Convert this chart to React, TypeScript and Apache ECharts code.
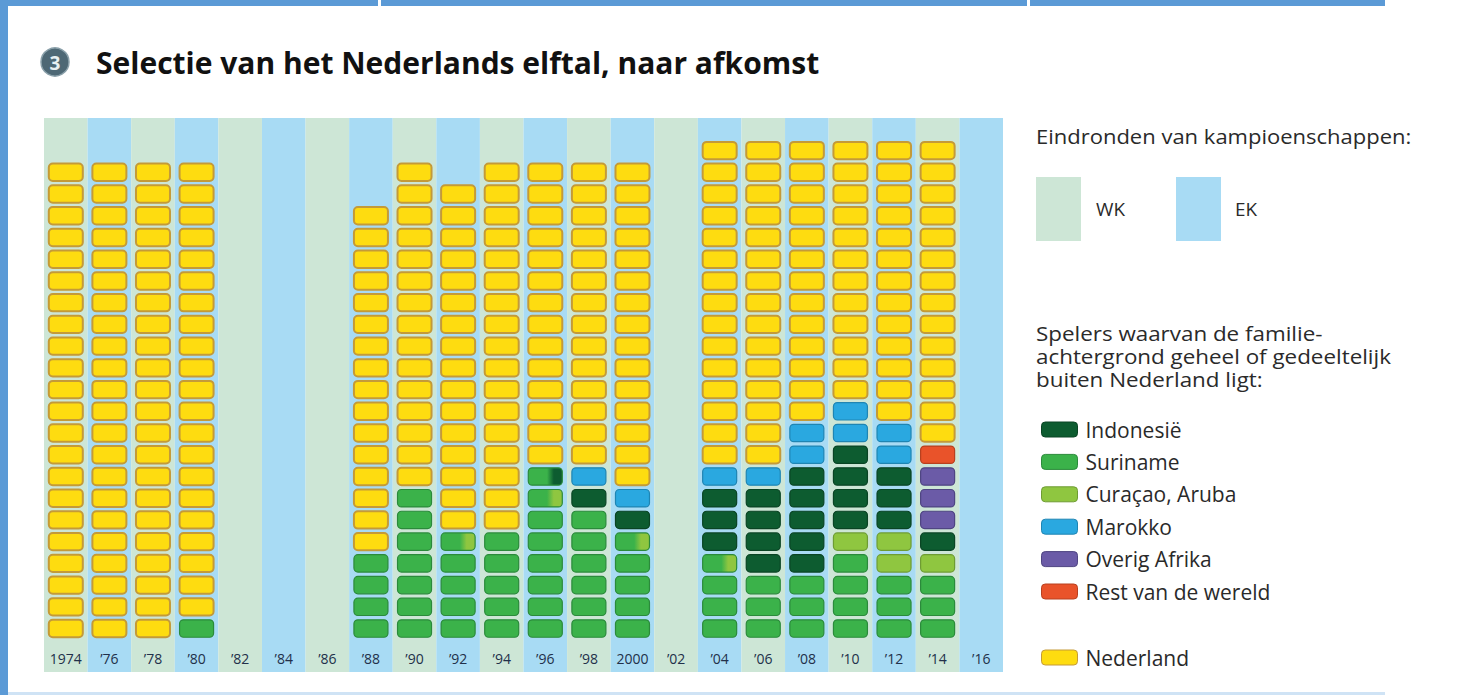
import React, { useEffect, useRef } from "react";
import * as echarts from "echarts";

// ---- Data ----
const years = ["1974", "’76", "’78", "’80", "’82", "’84", "’86", "’88", "’90", "’92", "’94", "’96", "’98", "2000", "’02", "’04", "’06", "’08", "’10", "’12", "’14", "’16"];
const tournament = ["WK", "EK", "WK", "EK", "WK", "EK", "WK", "EK", "WK", "EK", "WK", "EK", "WK", "EK", "WK", "EK", "WK", "EK", "WK", "EK", "WK", "EK"];

const suriname = [0, 0, 0, 1, 0, 0, 0, 4, 7, 4, 5, 6, 6, 4, 0, 3, 3, 3, 4, 3, 3, 0];
const surinameCuracao = [0, 0, 0, 0, 0, 0, 0, 0, 0, 1, 0, 1, 0, 1, 0, 1, 0, 0, 0, 0, 0, 0];
const surinameIndonesie = [0, 0, 0, 0, 0, 0, 0, 0, 0, 0, 0, 1, 0, 0, 0, 0, 0, 0, 0, 0, 0, 0];
const curacao = [0, 0, 0, 0, 0, 0, 0, 0, 0, 0, 0, 0, 0, 0, 0, 0, 0, 0, 1, 2, 1, 0];
const indonesie = [0, 0, 0, 0, 0, 0, 0, 0, 0, 0, 0, 0, 1, 1, 0, 3, 4, 5, 4, 3, 1, 0];
const marokko = [0, 0, 0, 0, 0, 0, 0, 0, 0, 0, 0, 0, 1, 1, 0, 1, 1, 2, 2, 2, 0, 0];
const overigAfrika = [0, 0, 0, 0, 0, 0, 0, 0, 0, 0, 0, 0, 0, 0, 0, 0, 0, 0, 0, 0, 3, 0];
const restWereld = [0, 0, 0, 0, 0, 0, 0, 0, 0, 0, 0, 0, 0, 0, 0, 0, 0, 0, 0, 0, 1, 0];
const nederland = [22, 22, 22, 21, 0, 0, 0, 16, 15, 16, 17, 14, 14, 15, 0, 15, 15, 13, 12, 13, 14, 0];

const legendOrigins = ["Indonesië", "Suriname", "Curaçao, Aruba", "Marokko", "Overig Afrika", "Rest van de wereld"];
const introLines = ["Spelers waarvan de familie-", "achtergrond geheel of gedeeltelijk", "buiten Nederland ligt:"];

// colours
const COL: Record<string, [string, string]> = {
  "Suriname": ["#3bb24a", "#2b8a3b"],
  "Curaçao, Aruba": ["#8fc640", "#6e9c33"],
  "Indonesië": ["#0d5c30", "#0a4424"],
  "Marokko": ["#2aa8e0", "#1f85b3"],
  "Overig Afrika": ["#6b5ba7", "#4f4582"],
  "Rest van de wereld": ["#e9532a", "#b8401f"],
  "Nederland": ["#fedc10", "#c49a38"],
};
const WK_COLOR = "#cde6d6";
const EK_COLOR = "#a8dbf4";

// stacking order from bottom to top: [name, counts, colour A, colour B]
const segments: [string, number[], string, string][] = [
  ["Suriname", suriname, "Suriname", "Suriname"],
  ["Suriname / Curaçao, Aruba", surinameCuracao, "Suriname", "Curaçao, Aruba"],
  ["Suriname / Indonesië", surinameIndonesie, "Suriname", "Indonesië"],
  ["Curaçao, Aruba", curacao, "Curaçao, Aruba", "Curaçao, Aruba"],
  ["Indonesië", indonesie, "Indonesië", "Indonesië"],
  ["Marokko", marokko, "Marokko", "Marokko"],
  ["Overig Afrika", overigAfrika, "Overig Afrika", "Overig Afrika"],
  ["Rest van de wereld", restWereld, "Rest van de wereld", "Rest van de wereld"],
  ["Nederland", nederland, "Nederland", "Nederland"],
];

function buildCells() {
  const out: Record<string, number[][]> = {};
  segments.forEach(([n]) => (out[n] = []));
  years.forEach((_, xi) => {
    let row = 0;
    segments.forEach(([n, counts]) => {
      for (let k = 0; k < counts[xi]; k++) {
        out[n].push([xi, row]);
        row++;
      }
    });
  });
  return out;
}

export default function App() {
  const ref = useRef<HTMLDivElement>(null);
  useEffect(() => {
    if (!ref.current) return;
    const chart = echarts.init(ref.current, undefined, { renderer: "svg" });
    const cells = buildCells();
    const font = "'Open Sans', 'Noto Sans', sans-serif";

    const series = segments.map(([name, , a, b]) => {
      const [fa, sa] = COL[a];
      const [fb] = COL[b];
      const fill =
        a === b
          ? fa
          : new echarts.graphic.LinearGradient(0, 0, 1, 0, [
              { offset: 0, color: fa },
              { offset: 0.55, color: fa },
              { offset: 0.75, color: fb },
              { offset: 1, color: fb },
            ]);
      return {
        type: "custom",
        name,
        data: cells[name],
        itemStyle: { color: fa, borderColor: sa },
        renderItem: (params: any, api: any) => {
          const x = api.value(0);
          const r = api.value(1);
          const c = api.coord([x, r + 0.5]);
          const s = api.size([1, 1]);
          const w = s[0] * 0.78;
          const h = s[1] * 0.8;
          return {
            type: "rect",
            shape: { x: c[0] - w / 2, y: c[1] - h / 2, width: w, height: h, r: 4 },
            style: { fill, stroke: sa, lineWidth: a === "Nederland" ? 2 : 1.2 },
          };
        },
      };
    });

    const legendItem = (n: string) => ({
      name: n,
      icon: "roundRect",
      itemStyle: { color: COL[n][0], borderColor: COL[n][1], borderWidth: 1 },
    });
    const legendText = { fontSize: 21, lineHeight: 21, fontFamily: font, color: "#2a2a2a", padding: [0, 0, 0, 3] };

    const sideText = (text: string, x: number, y: number, size: number, sx: number) => ({
      type: "text",
      x,
      y,
      scaleX: sx,
      style: { text, fill: "#2a2a2a", font: `${size}px ${font}`, verticalAlign: "middle" },
    });

    chart.setOption({
      animation: false,
      grid: { left: 44, right: 458, top: 118, bottom: 23 },
      xAxis: {
        type: "category",
        data: years,
        boundaryGap: true,
        axisLine: { show: false },
        axisTick: { show: false, interval: 0 },
        axisLabel: {
          interval: 0,
          inside: true,
          margin: 7,
          fontSize: 14,
          fontFamily: font,
          color: "#22304a",
        },
        splitLine: { show: false },
        splitArea: {
          show: true,
          interval: 0,
          areaStyle: { color: tournament.map((t) => (t === "WK" ? WK_COLOR : EK_COLOR)) },
        },
      },
      yAxis: { type: "value", min: -1.5, max: 24, show: false, splitLine: { show: false } },
      legend: [
        {
          data: legendOrigins.map(legendItem),
          orient: "vertical",
          left: 1036,
          top: 414,
          itemWidth: 36,
          itemHeight: 15,
          itemGap: 11.4,
          selectedMode: false,
          textStyle: legendText,
        },
        {
          data: [legendItem("Nederland")],
          orient: "vertical",
          left: 1036,
          top: 642,
          itemWidth: 36,
          itemHeight: 15,
          selectedMode: false,
          textStyle: legendText,
        },
      ],
      graphic: [
        { type: "rect", left: 0, top: 0, shape: { width: 8, height: 695 }, style: { fill: "#5b9ad6" } },
        { type: "rect", left: 8, top: 0, shape: { width: 370, height: 6 }, style: { fill: "#5b9ad6" } },
        { type: "rect", left: 381, top: 0, shape: { width: 646, height: 6 }, style: { fill: "#5b9ad6" } },
        { type: "rect", left: 1030, top: 0, shape: { width: 355, height: 6 }, style: { fill: "#5b9ad6" } },
        { type: "rect", left: 8, top: 692, shape: { width: 1377, height: 3 }, style: { fill: "#cfe3f5" } },
        { type: "circle", shape: { cx: 55, cy: 62, r: 14 }, style: { fill: "#4e6875", stroke: "#8aa0aa", lineWidth: 1.5 } },
        {
          type: "text",
          x: 55,
          y: 63,
          style: { text: "3", fill: "#e8f0f2", font: `bold 19px ${font}`, align: "center", verticalAlign: "middle" },
        },
        {
          type: "text",
          x: 96,
          y: 62,
          style: {
            text: "Selectie van het Nederlands elftal, naar afkomst",
            fill: "#111",
            font: `bold 30px ${font}`,
            verticalAlign: "middle",
          },
        },
        sideText("Eindronden van kampioenschappen:", 1036, 136, 20, 1.1),
        { type: "rect", shape: { x: 1036, y: 177, width: 45, height: 64 }, style: { fill: WK_COLOR } },
        sideText("WK", 1096, 209, 18, 1.05),
        { type: "rect", shape: { x: 1176, y: 177, width: 45, height: 64 }, style: { fill: EK_COLOR } },
        sideText("EK", 1235, 209, 18, 1.05),
        ...introLines.map((t, i) => sideText(t, 1036, 333 + i * 23, 20, 1.12)),
      ],
      series,
    });
    return () => chart.dispose();
  }, []);
  return <div ref={ref} style={{ width: 1461, height: 695, position: "absolute", left: 0, top: 0 }} />;
}
